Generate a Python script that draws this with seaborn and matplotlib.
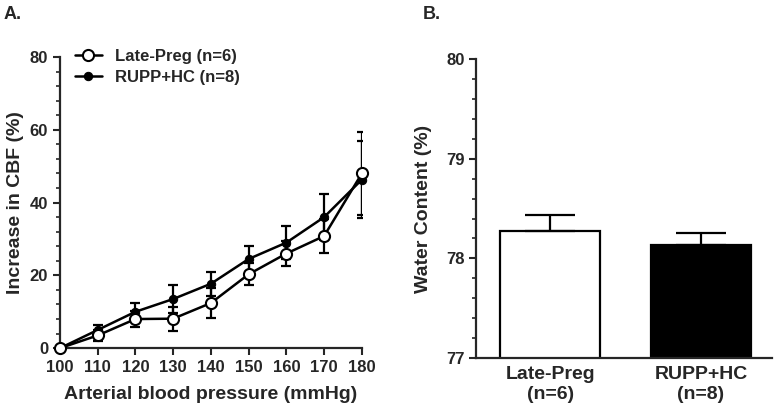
import matplotlib
matplotlib.use("Agg")
import matplotlib.pyplot as plt
from matplotlib.ticker import MultipleLocator
import seaborn as sns
import pandas as pd
import numpy as np

# Panel A data
pressure = [100, 110, 120, 130, 140, 150, 160, 170, 180]
late_preg_cbf = [0, 3.5, 8.0, 8.1, 12.4, 20.3, 26.0, 30.8, 48.0]
late_preg_sem = [0, 1.5, 2.3, 3.3, 4.2, 3.0, 3.4, 4.6, 11.4]
rupp_cbf = [0, 5.0, 10.0, 13.5, 17.7, 24.5, 29.0, 36.0, 46.3]
rupp_sem = [0, 1.5, 2.3, 3.8, 3.3, 3.5, 4.5, 6.4, 10.5]

# Panel B data
groups = ["Late-Preg\n(n=6)", "RUPP+HC\n(n=8)"]
water = [78.27, 78.13]
water_sem = [0.17, 0.12]

sns.set_style("ticks")
plt.rcParams['font.family'] = ['Liberation Sans', 'DejaVu Sans']
plt.rcParams['font.weight'] = 'bold'
plt.rcParams['axes.labelweight'] = 'bold'
plt.rcParams['axes.linewidth'] = 1.6

fig = plt.figure(figsize=(7.82, 4.13), dpi=100)
ax1 = fig.add_axes([0.0767, 0.157, 0.386, 0.705])
ax2 = fig.add_axes([0.609, 0.133, 0.378, 0.724])

# ---- Panel A
df = pd.DataFrame({
    "pressure": pressure * 2,
    "cbf": late_preg_cbf + rupp_cbf,
    "group": ["Late-Preg (n=6)"] * 9 + ["RUPP+HC (n=8)"] * 9,
})
ax1.errorbar(pressure, late_preg_cbf, yerr=late_preg_sem, fmt='none',
             ecolor='black', elinewidth=1.6, capsize=3.5, capthick=1.6, zorder=2)
ax1.errorbar(pressure, rupp_cbf, yerr=rupp_sem, fmt='none',
             ecolor='black', elinewidth=1.6, capsize=3.5, capthick=1.6, zorder=2)
sns.lineplot(data=df[df.group == "RUPP+HC (n=8)"], x="pressure", y="cbf",
             ax=ax1, color='black', lw=1.8, marker='o', markersize=6,
             markerfacecolor='black', markeredgecolor='black',
             label="RUPP+HC (n=8)", zorder=3, clip_on=False)
sns.lineplot(data=df[df.group == "Late-Preg (n=6)"], x="pressure", y="cbf",
             ax=ax1, color='black', lw=1.8, marker='o', markersize=8,
             markerfacecolor='white', markeredgecolor='black', markeredgewidth=1.5,
             label="Late-Preg (n=6)", zorder=4, clip_on=False)
handles, labels = ax1.get_legend_handles_labels()
ax1.legend(handles[::-1], labels[::-1], loc='upper left', frameon=False,
           bbox_to_anchor=(0.0, 1.08), handlelength=1.6, handletextpad=0.8,
           prop={'weight': 'bold', 'size': 12}, labelspacing=0.35)

ax1.set_xlim(100, 180)
ax1.set_ylim(0, 80)
ax1.set_xticks(pressure)
ax1.set_yticks([0, 20, 40, 60, 80])
ax1.yaxis.set_minor_locator(MultipleLocator(4))
ax1.tick_params(axis='both', labelsize=12, width=1.5, length=5)
ax1.tick_params(axis='y', which='minor', width=1.2, length=3)
ax1.set_xlabel("Arterial blood pressure (mmHg)", fontsize=14, labelpad=8)
ax1.set_ylabel("Increase in CBF (%)", fontsize=14, labelpad=4)
for lbl in ax1.get_xticklabels() + ax1.get_yticklabels():
    lbl.set_fontweight('bold')
sns.despine(ax=ax1)

# ---- Panel B
bdf = pd.DataFrame({"group": groups, "water": water})
sns.barplot(data=bdf, x="group", y="water", ax=ax2, width=0.66,
            palette=['white', 'black'], hue="group", legend=False,
            edgecolor='black', linewidth=1.6, bottom=0)
ax2.errorbar([0, 1], water, yerr=[[0, 0], water_sem], fmt='none',
             ecolor='black', elinewidth=1.6, capsize=18, capthick=1.6, zorder=1)
ax2.set_ylim(77, 80)
ax2.set_xlim(-0.49, 1.47)
ax2.set_yticks([77, 78, 79, 80])
ax2.yaxis.set_minor_locator(MultipleLocator(0.2))
ax2.tick_params(axis='y', labelsize=12, width=1.5, length=5)
ax2.tick_params(axis='y', which='minor', width=1.2, length=3)
ax2.tick_params(axis='x', length=0, labelsize=14, pad=6)
ax2.set_xlabel("")
ax2.set_ylabel("Water Content (%)", fontsize=14, labelpad=10)
for lbl in ax2.get_xticklabels() + ax2.get_yticklabels():
    lbl.set_fontweight('bold')
sns.despine(ax=ax2)

fig.text(0.005, 0.955, "A.", fontsize=13, fontweight='bold')
fig.text(0.54, 0.955, "B.", fontsize=13, fontweight='bold')

fig.savefig("out.png", dpi=100)
